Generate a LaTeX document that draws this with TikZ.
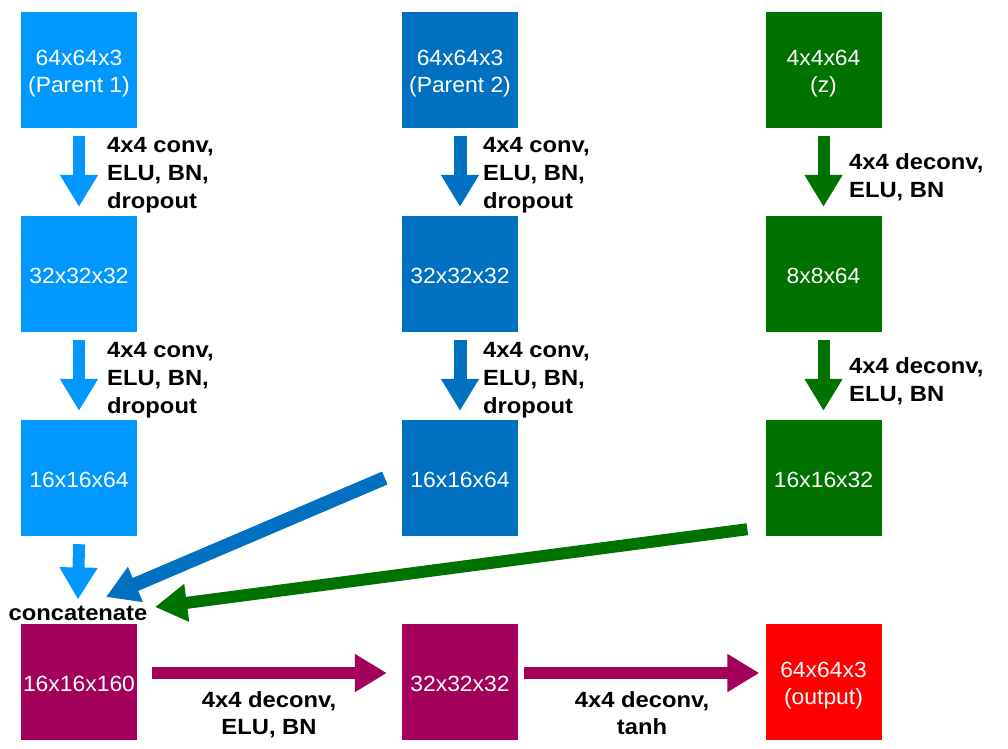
\documentclass[tikz,border=0pt]{standalone}
\usepackage{fontspec}
\setmainfont{Liberation Sans}
\newfontfamily\bxfont{Liberation Sans}[FakeStretch=1.04]
\newfontfamily\lbfont{Liberation Sans}[FakeStretch=1.08]
\usetikzlibrary{arrows.meta}
\definecolor{lblue}{RGB}{0,152,255}
\definecolor{dblue}{RGB}{0,112,192}
\definecolor{dgreen}{RGB}{0,114,0}
\definecolor{plum}{RGB}{162,0,90}
\definecolor{ored}{RGB}{255,0,0}
\begin{document}
\begin{tikzpicture}[x=1pt,y=-1pt,
  box/.style={minimum width=116pt,minimum height=116pt,inner sep=0pt,text=white,
    text height=18.6pt,text depth=0pt,
    align=center,font=\bxfont\fontsize{22}{27}\selectfont},
  box2/.style={box,text height=45.4pt},
  lab/.style={inner sep=0pt,align=left,font=\lbfont\bfseries\fontsize{22}{28}\selectfont},
  clab/.style={inner sep=0pt,align=center,font=\lbfont\bfseries\fontsize{22}{27}\selectfont},
  fat/.style={line width=#1,-{Triangle[width=36pt,length=32pt]}},
  fat/.default=12pt]
\useasboundingbox (0,0) rectangle (1008,748);
% column 1
\node[box2,fill=lblue] (a1) at (79,70) {64x64x3\\(Parent 1)};
\node[box,fill=lblue] (a2) at (79,274) {32x32x32};
\node[box,fill=lblue] (a3) at (79,478) {16x16x64};
% column 2
\node[box2,fill=dblue] (b1) at (460,70) {64x64x3\\(Parent 2)};
\node[box,fill=dblue] (b2) at (460,274) {32x32x32};
\node[box,fill=dblue] (b3) at (460,478) {16x16x64};
% column 3
\node[box2,fill=dgreen] (c1) at (823.5,70) {4x4x64\\(z)};
\node[box,fill=dgreen] (c2) at (823.5,274) {8x8x64};
\node[box,fill=dgreen] (c3) at (823.5,478) {16x16x32};
% bottom row
\node[box,fill=plum] (m1) at (79,682) {16x16x160};
\node[box,fill=plum] (m2) at (460,682) {32x32x32};
\node[box2,fill=ored] (o) at (823.5,682) {64x64x3\\(output)};
% concatenate
\node[lab,anchor=base] (cc) at (78,620) {concatenate};
\coordinate (tb) at (106,597);
\coordinate (tg) at (155,607);
% vertical arrows
\draw[fat,draw=lblue,fill=lblue] ([yshift=-8pt]a1.south) -- ([yshift=9pt]a2.north);
\draw[fat,draw=lblue,fill=lblue] ([yshift=-8pt]a2.south) -- ([yshift=9pt]a3.north);
\draw[fat,draw=lblue,fill=lblue] ([yshift=-8pt]a3.south) -- ([yshift=6pt]cc.north);
\draw[fat=13pt,draw=dblue,fill=dblue] ([yshift=-8pt]b1.south) -- ([yshift=9pt]b2.north);
\draw[fat=13pt,draw=dblue,fill=dblue] ([yshift=-8pt]b2.south) -- ([yshift=9pt]b3.north);
\draw[fat,draw=dgreen,fill=dgreen] ([yshift=-8pt]c1.south) -- ([yshift=9pt]c2.north);
\draw[fat,draw=dgreen,fill=dgreen] ([yshift=-8pt]c2.south) -- ([yshift=9pt]c3.north);
% diagonal arrows
\draw[fat=14pt,draw=dblue,fill=dblue] ([xshift=-17pt]b3.west) -- (tb);
\draw[fat,draw=dgreen,fill=dgreen] ([xshift=-18pt,yshift=7pt]c3.south west) -- (tg);
% horizontal arrows
\draw[fat,draw=plum,fill=plum] ([xshift=15pt,yshift=9pt]m1.east) -- ([xshift=-15pt,yshift=9pt]m2.west);
\draw[fat,draw=plum,fill=plum] ([xshift=6pt,yshift=9pt]m2.east) -- ([xshift=-6pt,yshift=9pt]o.west);
% labels
\node[lab,anchor=north west] (l1) at (107,137) {4x4 conv,\\ELU, BN,\\dropout};
\node[lab,anchor=north west] (l2) at (107,342) {4x4 conv,\\ELU, BN,\\dropout};
\node[lab,anchor=north west] (l3) at (483,137) {4x4 conv,\\ELU, BN,\\dropout};
\node[lab,anchor=north west] (l4) at (483,342) {4x4 conv,\\ELU, BN,\\dropout};
\node[lab,anchor=north west] (l5) at (849,153) {4x4 deconv,\\ELU, BN};
\node[lab,anchor=north west] (l6) at (849,357) {4x4 deconv,\\ELU, BN};
\node[clab,anchor=north] (l7) at (269,691) {4x4 deconv,\\ELU, BN};
\node[clab,anchor=north] (l8) at (642,691) {4x4 deconv,\\tanh};
\end{tikzpicture}
\end{document}
